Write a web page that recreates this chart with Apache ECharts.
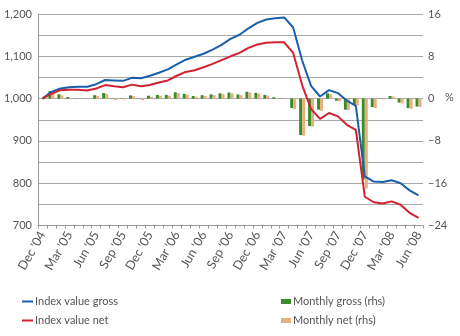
<!DOCTYPE html>
<html>
<head>
<meta charset="utf-8">
<script src="https://cdn.jsdelivr.net/npm/echarts@6/dist/echarts.min.js"></script>
<style>html,body{margin:0;padding:0;background:#fff;}#c{width:460px;height:336px;}</style>
</head>
<body>
<div id="c"></div>
<script>
const months = ["Dec '04","Jan '05","Feb '05","Mar '05","Apr '05","May '05","Jun '05","Jul '05","Aug '05","Sep '05","Oct '05","Nov '05",
"Dec '05","Jan '06","Feb '06","Mar '06","Apr '06","May '06","Jun '06","Jul '06","Aug '06","Sep '06","Oct '06","Nov '06",
"Dec '06","Jan '07","Feb '07","Mar '07","Apr '07","May '07","Jun '07","Jul '07","Aug '07","Sep '07","Oct '07","Nov '07",
"Dec '07","Jan '08","Feb '08","Mar '08","Apr '08","May '08","Jun '08"];

const indexGross = [1000,1016,1024,1027,1028,1028,1034,1044,1043,1042,1049,1048,
1054,1061,1069,1081,1092,1099,1106,1116,1127,1141,1151,1166,
1179,1187,1190,1192,1168,1090,1030,1005,1020,1013,995,983,
816,804,803,807,800,783,771];

const indexNet = [1000,1011,1020,1021,1021,1019,1024,1032,1029,1027,1033,1029,
1032,1038,1043,1054,1063,1067,1074,1082,1091,1100,1108,1120,
1128,1132,1133,1133,1108,1032,975,952,966,958,938,926,
768,755,752,757,749,730,718];

const monthlyGross = [null,1.4,0.8,0.3,0.05,0.0,0.65,1.05,-0.05,-0.05,0.6,-0.05,
0.55,0.7,0.7,1.2,0.9,0.5,0.65,0.8,1.0,1.15,0.8,1.3,
1.1,0.7,0.25,0.05,-1.8,-6.9,-5.2,-2.1,1.0,-0.4,-2.1,-1.2,
-15.3,-1.6,-0.05,0.5,-0.75,-1.8,-1.5];

const monthlyNet = [null,1.0,0.6,0.1,0.0,-0.1,0.5,0.9,-0.25,-0.15,0.45,-0.3,
0.35,0.55,0.55,1.05,0.75,0.35,0.5,0.65,0.85,1.0,0.65,1.15,
0.95,0.55,0.1,-0.05,-2.0,-7.0,-5.3,-2.3,0.85,-0.5,-2.2,-1.3,
-17.0,-1.8,-0.15,0.4,-0.9,-1.9,-1.6];

const leftTicks = [700,800,900,1000,1100,1200];
const rightTicks = [-24,-16,-8,0,8,16];
const rightUnit = '%';

const FONT = 'Lato';
const TXT = '#555555';
const GRID = '#a8a8a8';

const chart = echarts.init(document.getElementById('c'), null, {renderer:'canvas'});
chart.setOption({
  animation:false,
  backgroundColor:'#ffffff',
  textStyle:{fontFamily:FONT},
  grid:{left:38,right:37,top:14,bottom:110.5,containLabel:false},
  legend:[
    {data:['Index value gross','Index value net'],orient:'vertical',left:22,top:295,padding:0,
     itemWidth:11,itemHeight:2,itemGap:6,icon:'rect',
     textStyle:{fontFamily:FONT,fontSize:11,color:TXT,lineHeight:13,padding:[0,0,0,-3]}},
    {data:['Monthly gross (rhs)','Monthly net (rhs)'],orient:'vertical',left:281,top:295,padding:0,
     itemWidth:10,itemHeight:5,itemGap:6,icon:'rect',
     textStyle:{fontFamily:FONT,fontSize:11,color:TXT,lineHeight:13,padding:[0,0,0,-3]}}
  ],
  xAxis:{type:'category',data:months,boundaryGap:true,
    axisLine:{onZero:false,lineStyle:{color:'#999',width:1}},
    axisTick:{show:true,interval:0,length:3,lineStyle:{color:'#999'}},
    axisLabel:{interval:function(i){return i%3===0;},rotate:60,fontSize:12.5,color:TXT,fontFamily:FONT,margin:7},
    splitLine:{show:false}},
  yAxis:[
    {type:'value',min:700,max:1200,interval:50,position:'left',
     axisLine:{show:true,lineStyle:{color:'#999'}},axisTick:{show:false},
     splitLine:{show:true,lineStyle:{color:GRID,width:1}},
     axisLabel:{fontSize:11,color:TXT,fontFamily:FONT,margin:6,
       formatter:function(v){return leftTicks.indexOf(v)>=0 ? v.toLocaleString('en-US') : '';}}},
    {type:'value',min:-24,max:16,interval:4,position:'right',
     axisLine:{show:false},axisTick:{show:false},splitLine:{show:false},
     axisLabel:{fontSize:11,color:TXT,fontFamily:FONT,margin:5,
       formatter:function(v){return rightTicks.indexOf(v)>=0 ? (v<0?'\u2212'+(-v):String(v)) : '';}}}
  ],
  series:[
    {name:'Monthly gross (rhs)',type:'bar',yAxisIndex:1,data:monthlyGross,barWidth:3,barGap:'0%',
     itemStyle:{color:'#3b8b2b'},z:2},
    {name:'Monthly net (rhs)',type:'bar',yAxisIndex:1,data:monthlyNet,barWidth:3,barGap:'0%',
     itemStyle:{color:'#e6b17d'},z:2},
    {name:'Index value gross',type:'line',yAxisIndex:0,data:indexGross,symbol:'none',
     lineStyle:{color:'#1b5fac',width:2},itemStyle:{color:'#1b5fac'},z:4},
    {name:'Index value net',type:'line',yAxisIndex:0,data:indexNet,symbol:'none',
     lineStyle:{color:'#d3222f',width:2},itemStyle:{color:'#d3222f'},z:4}
  ]
});
const y0 = chart.convertToPixel({yAxisIndex:1}, 0);
chart.setOption({graphic:[{type:'text',left:445,top:y0-7,
  style:{text:rightUnit,fontSize:11,fontFamily:FONT,fill:TXT}}]});
</script>
</body>
</html>
